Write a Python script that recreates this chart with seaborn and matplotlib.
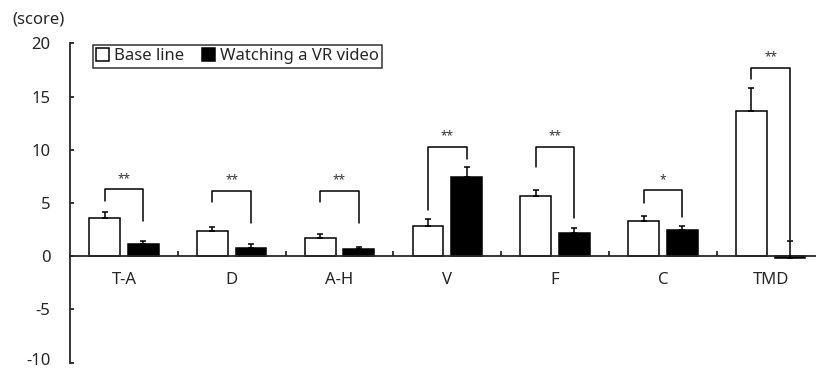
import numpy as np
import pandas as pd
import matplotlib
matplotlib.use("Agg")
import matplotlib.pyplot as plt
import matplotlib.transforms as mtransforms
from matplotlib.patches import Patch
import seaborn as sns

# POMS subscale scores (mean and SE)
categories = ["T-A", "D", "A-H", "V", "F", "C", "TMD"]
conditions = ["Base line", "Watching a VR video"]
baseline_mean = [3.62, 2.38, 1.69, 2.85, 5.66, 3.31, 13.64]
baseline_se = [0.57, 0.40, 0.40, 0.63, 0.59, 0.50, 2.19]
vr_mean = [1.13, 0.81, 0.66, 7.47, 2.22, 2.47, -0.15]
vr_se = [0.31, 0.35, 0.22, 0.88, 0.47, 0.38, 1.56]

# significance brackets: top, left leg end, right leg end (score units)
bracket_top = [6.32, 6.16, 6.16, 10.29, 10.29, 6.20, 17.71]
bracket_left = [5.22, 5.07, 5.07, 4.35, 8.41, 5.03, 16.65]
bracket_right = [3.34, 3.15, 3.15, 9.11, 3.57, 3.72, 1.53]
stars = ["**", "**", "**", "**", "**", "*", "**"]

y_ticks = [-10, -5, 0, 5, 10, 15, 20]

sns.set_style("ticks")
plt.rcParams["font.family"] = ["Noto Sans", "DejaVu Sans"]
plt.rcParams["axes.unicode_minus"] = False

df = pd.DataFrame({
    "category": categories * 2,
    "condition": [conditions[0]] * 7 + [conditions[1]] * 7,
    "score": baseline_mean + vr_mean,
})

W, H = 816, 371
fig = plt.figure(figsize=(W / 100, H / 100), dpi=100)
ax = fig.add_axes([70 / W, 8.3 / H, 754.6 / W, 319.4 / H])

sns.barplot(data=df, x="category", y="score", hue="condition",
            palette=["white", "black"], edgecolor="black", linewidth=1.1,
            width=0.716, gap=0.2, errorbar=None, legend=False,
            saturation=1, ax=ax)

# one-sided error bars
centers = []
for cont, means, ses in zip(ax.containers, [baseline_mean, vr_mean], [baseline_se, vr_se]):
    xs = [p.get_x() + p.get_width() / 2 for p in cont.patches]
    centers.append(xs)
    ax.errorbar(xs, means, yerr=[np.zeros(len(ses)), ses], fmt="none",
                ecolor="black", elinewidth=1.1, capsize=2.4, capthick=1.1, zorder=3)

# significance brackets
for i in range(len(categories)):
    xl, xr = centers[0][i], centers[1][i]
    ax.plot([xl, xl, xr, xr], [bracket_left[i], bracket_top[i], bracket_top[i], bracket_right[i]],
            color="black", lw=1.1, zorder=3)
    ax.annotate(stars[i], xy=((xl + xr) / 2, bracket_top[i]), xytext=(0, 3),
                textcoords="offset points", ha="center", va="bottom",
                fontsize=8.5, color="#333333")

ax.set_xlim(-0.5, 6.5)
ax.set_ylim(-10, 20)
ax.set_yticks(y_ticks)
ax.set_xlabel("")
ax.set_ylabel("")

for s in ["top", "right"]:
    ax.spines[s].set_visible(False)
ax.spines["bottom"].set_position(("data", 0))
ax.spines["left"].set_linewidth(1.3)
ax.spines["bottom"].set_linewidth(1.3)

ax.tick_params(axis="y", direction="in", length=3, width=1.3, pad=14, labelsize=12)
ax.tick_params(axis="x", which="major", length=0, pad=11, labelsize=12)
ax.set_xticks(np.arange(0.5, 6.5, 1.0), minor=True)
ax.tick_params(axis="x", which="minor", direction="in", length=3.5, width=1.3)

# keep the lowest tick label inside the canvas
lowest = ax.get_yticklabels()[0]
lowest.set_transform(lowest.get_transform() +
                     mtransforms.ScaledTranslation(0, 2.5 / 72, fig.dpi_scale_trans))

fig.text(12 / W, 1 - 19 / H, "(score)", ha="left", va="center", fontsize=12)

handles = [Patch(facecolor="white", edgecolor="black", linewidth=1.1),
           Patch(facecolor="black", edgecolor="black", linewidth=1.1)]
leg = ax.legend(handles, conditions, ncol=2, loc="upper left",
                bbox_to_anchor=(93 / W, 1 - 45 / H), bbox_transform=fig.transFigure,
                borderaxespad=0, frameon=True, fancybox=False, fontsize=12,
                handlelength=0.75, handleheight=0.75, handletextpad=0.3,
                columnspacing=1.1, borderpad=0.2)
leg.get_frame().set_edgecolor("black")
leg.get_frame().set_linewidth(1.1)

fig.savefig("out.png", dpi=100)
